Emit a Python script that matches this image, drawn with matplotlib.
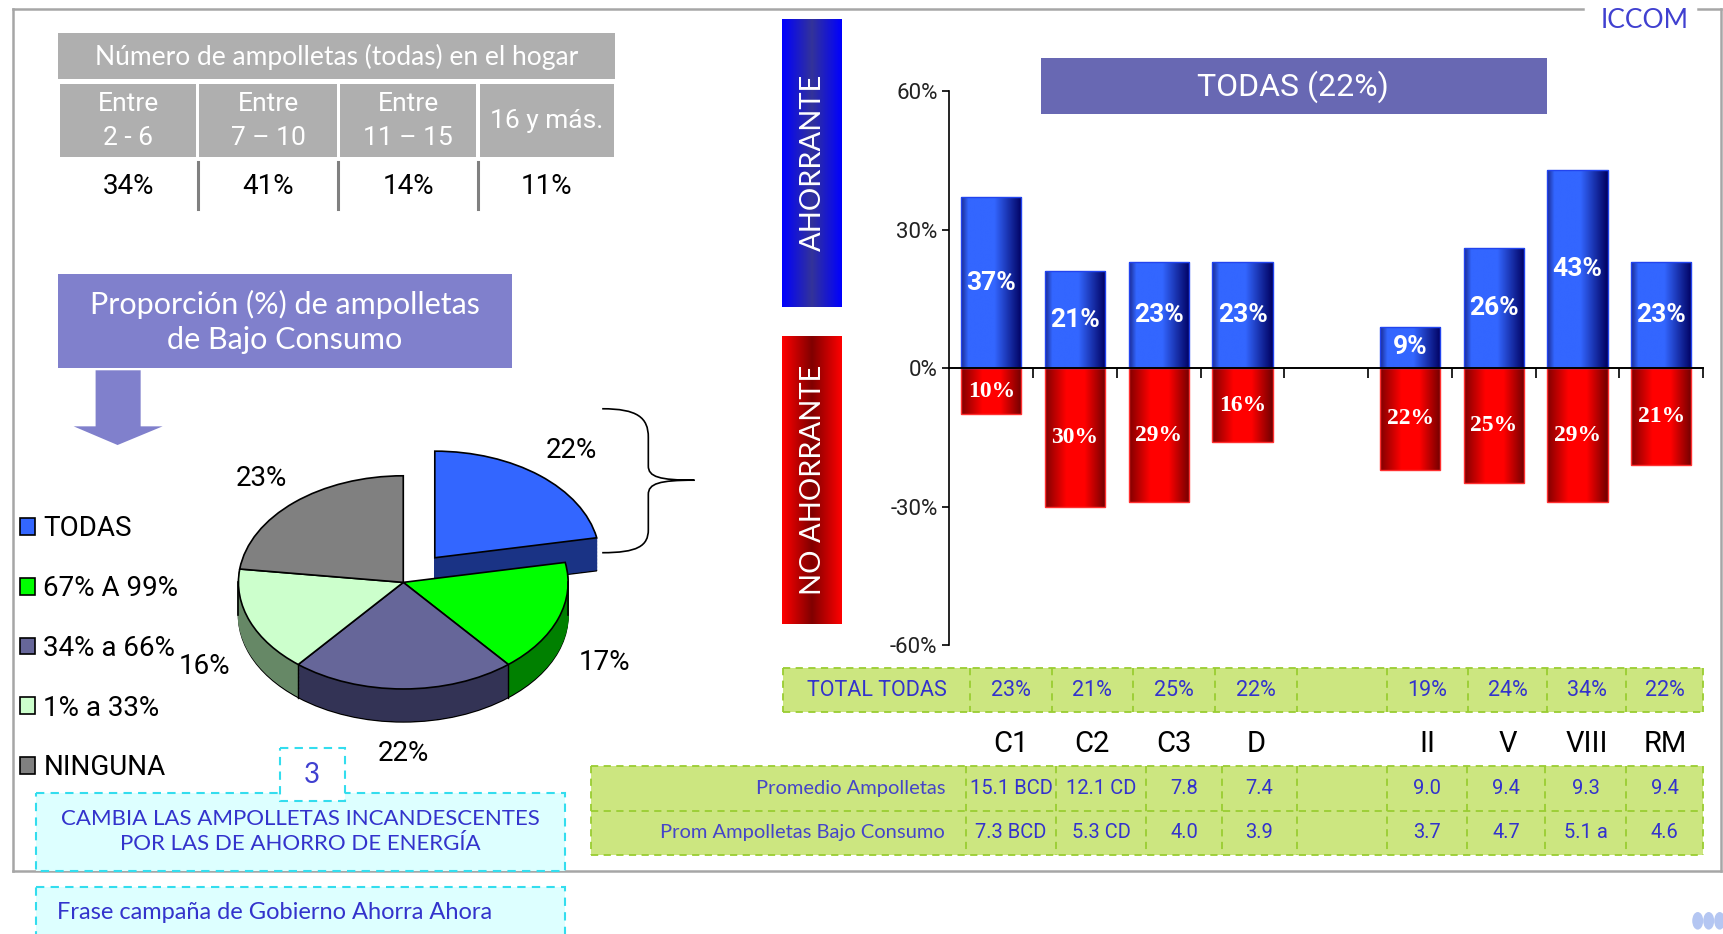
"""
ICCOM slide: ampolletas de bajo consumo, ahorrante vs no ahorrante.
Rebuilds the slide (tables, 3D pie, diverging bars) and saves out.png.
"""
import numpy as np
import matplotlib
matplotlib.use("Agg")
import matplotlib.pyplot as plt
from matplotlib import font_manager
from matplotlib.colors import LinearSegmentedColormap
from matplotlib.patches import Rectangle, Polygon, PathPatch, Ellipse
from matplotlib.path import Path

# ---- data -------------------------------------------------------------
hogar_title = "Número de ampolletas (todas) en el hogar"
hogar_labels = ["Entre\n2 - 6", "Entre\n7 – 10", "Entre\n11 – 15", "16 y más."]
hogar_values = ["34%", "41%", "14%", "11%"]

pie_labels = ["TODAS", "67% A 99%", "34% a 66%", "1% a 33%", "NINGUNA"]
pie_values = [22, 17, 22, 16, 23]

categories = ["C1", "C2", "C3", "D", "", "II", "V", "VIII", "RM"]
ahorrante = [37, 21, 23, 23, None, 9, 26, 43, 23]
no_ahorrante = [10, 30, 29, 16, None, 22, 25, 29, 21]
yticks = [-60, -30, 0, 30, 60]

total_todas = ["23%", "21%", "25%", "22%", "", "19%", "24%", "34%", "22%"]
prom_ampolletas = ["15.1 BCD", "12.1 CD", "7.8", "7.4", "", "9.0", "9.4", "9.3", "9.4"]
prom_bajo_consumo = ["7.3 BCD", "5.3 CD", "4.0", "3.9", "", "3.7", "4.7", "5.1 a", "4.6"]

# ---- fonts --------------------------------------------------------------
installed = {f.name for f in font_manager.fontManager.ttflist}


def pick(*names):
    for n in names:
        if n in installed:
            return n
    return "DejaVu Sans"


MAIN = pick("Lato", "Noto Sans")
NARROW = pick("Liberation Sans Narrow", "Roboto", "Lato")
SERIF = pick("Liberation Serif", "DejaVu Serif")

# ---- colours ------------------------------------------------------------
GREY = "#AFAFAF"
PURPLE = "#8080CC"
TITLE_PURPLE = "#6868B3"
TXT_BLUE = "#3333CC"
GREEN = "#CCE680"
GREEN_EDGE = "#9ACD32"
CYAN_FILL = "#DDFFFF"
CYAN_EDGE = "#33DDEE"
FRAME = "#A6A6A6"
PIE_TOP = ["#3366FF", "#00FF00", "#666699", "#CCFFCC", "#808080"]
PIE_SIDE = ["#1A3385", "#008000", "#333355", "#668866", "#404040"]

# layout is measured on a 1568 x 850 grid, stretched over the full figure
W, H = 1568, 850


def fig_rect(x0, y0, x1, y1):
    return [x0 / W, 1 - y1 / H, (x1 - x0) / W, (y1 - y0) / H]


fig = plt.figure(figsize=(17.23, 9.34), dpi=100)
bg = fig.add_axes([0, 0, 1, 1])
bg.axis("off")

# outer frame
fr = dict(color=FRAME, lw=1.8, zorder=0)
bg.plot([12, 1441], [8, 8], **fr)
bg.plot([1545, 1566], [8, 8], **fr)
bg.plot([12, 12], [8, 793], **fr)
bg.plot([1566, 1566], [8, 793], **fr)
bg.plot([12, 1566], [793, 793], **fr)
bg.text(1497, 19, "ICCOM", color="#4040D0", fontsize=19, family=MAIN,
        ha="center", va="center")

# ---- top-left table -----------------------------------------------------
col_edges = [53, 180, 308, 435, 560]
bg.add_patch(Rectangle((53, 30), 507, 42, fc=GREY, ec="none"))
bg.text(306, 52, hogar_title, color="white", fontsize=19, family=MAIN,
        ha="center", va="center")
for i, (lab, val) in enumerate(zip(hogar_labels, hogar_values)):
    x0, x1 = col_edges[i], col_edges[i + 1]
    bg.add_patch(Rectangle((x0 + 1.5, 76), x1 - x0 - 3, 67, fc=GREY, ec="none"))
    bg.text((x0 + x1) / 2, 110, lab, color="white", fontsize=19, family=NARROW,
            ha="center", va="center", linespacing=1.5)
    bg.text((x0 + x1) / 2, 170, val, color="black", fontsize=20, family=NARROW,
            ha="center", va="center")
for x in col_edges[1:-1]:
    bg.plot([x, x], [147, 190], color="#808080", lw=2.2)

# ---- purple box + arrow -------------------------------------------------
bg.add_patch(Rectangle((53, 249), 413, 86, fc=PURPLE, ec="none"))
bg.text(259, 293, "Proporción (%) de ampolletas\nde Bajo Consumo", color="white",
        fontsize=22, family=MAIN, ha="center", va="center", linespacing=1.3)
bg.add_patch(Polygon([(87, 337), (128, 337), (128, 388), (148, 388),
                      (107, 405), (67, 388), (87, 388)], fc=PURPLE, ec="none"))

# ---- 3D pie -------------------------------------------------------------
pie_ax = fig.add_axes(fig_rect(67, 336, 667, 724))
pie_ax.set_facecolor("none")
depth = 0.31
n_layers = 24
explode = [0.3, 0, 0, 0, 0]
for k in range(n_layers, 0, -1):
    off = -depth * k / n_layers
    layer, _ = pie_ax.pie(pie_values, colors=PIE_SIDE, startangle=90,
                          counterclock=False, explode=explode, center=(0, off),
                          wedgeprops=dict(lw=1))
    for w in layer:
        w.set_edgecolor("black" if k == n_layers else w.get_facecolor())
wedges, _, pct_texts = pie_ax.pie(
    pie_values, colors=PIE_TOP, startangle=90, counterclock=False,
    explode=explode, autopct=lambda p: f"{p:.0f}%", pctdistance=1.3,
    wedgeprops=dict(ec="black", lw=1.2),
    textprops=dict(fontsize=20, family=NARROW, color="black"))
for t in pct_texts:
    x, y = t.get_position()
    if y < 0:
        t.set_position((x, y - depth))
# side edges at front-facing slice boundaries and silhouette
bounds = 90 - np.cumsum([0] + pie_values) * 3.6
for i, th in enumerate(np.deg2rad(bounds)):
    if np.sin(th) < -0.05 and 0 < i < len(pie_values):
        if explode[i - 1] == 0 and explode[i % len(pie_values)] == 0:
            pie_ax.plot([np.cos(th)] * 2, [np.sin(th), np.sin(th) - depth],
                        color="black", lw=1)
for sx in (-1, 1):
    pie_ax.plot([sx, sx], [0, -depth], color="black", lw=1.2)
pie_ax.set_aspect("auto")
pie_ax.set_xlim(-2, 2)
pie_ax.set_ylim(-2, 2)
pie_ax.axis("off")

bg.legend(wedges, pie_labels, loc="upper left", bbox_to_anchor=(18, 469),
          bbox_transform=bg.transData, frameon=False, borderpad=0,
          borderaxespad=0, handlelength=0.55, handleheight=0.55,
          handletextpad=0.3, labelspacing=1.18,
          prop=dict(family=NARROW, size=20))

# curly brace next to the exploded slice
brace = Path(
    [(548, 372), (580, 372), (590, 380), (590, 398),
     (590, 424), (590, 434), (600, 437), (632, 437),
     (600, 437), (590, 440), (590, 450),
     (590, 482), (590, 497), (580, 503), (548, 503)],
    [Path.MOVETO, Path.CURVE4, Path.CURVE4, Path.CURVE4,
     Path.LINETO, Path.CURVE4, Path.CURVE4, Path.CURVE4,
     Path.CURVE4, Path.CURVE4, Path.CURVE4,
     Path.LINETO, Path.CURVE4, Path.CURVE4, Path.CURVE4])
bg.add_patch(PathPatch(brace, fill=False, ec="black", lw=1.2))

# ---- bottom-left message boxes -----------------------------------------
dash = (0, (4, 3))
bg.add_patch(Rectangle((33, 722), 481, 71, fc=CYAN_FILL, ec=CYAN_EDGE,
                       lw=1.5, ls=dash, zorder=2))
bg.text(273, 757, "CAMBIA LAS AMPOLLETAS INCANDESCENTES\nPOR LAS DE AHORRO DE ENERGÍA",
        color=TXT_BLUE, fontsize=16, family=MAIN, ha="center", va="center",
        linespacing=1.3, zorder=3)
bg.add_patch(Rectangle((255, 681), 59, 48, fc="white", ec=CYAN_EDGE,
                       lw=1.5, ls=dash, zorder=4))
bg.text(284, 705, "3", color="#4040D0", fontsize=20, family=MAIN,
        ha="center", va="center", zorder=5)
bg.add_patch(Rectangle((33, 807), 481, 60, fc=CYAN_FILL, ec=CYAN_EDGE,
                       lw=1.5, ls=dash, zorder=2))
bg.text(52, 830, "Frase campaña de Gobierno Ahorra Ahora", color=TXT_BLUE,
        fontsize=17, family=MAIN, ha="left", va="center", zorder=3)
for cx in (1545, 1555, 1565):
    bg.add_patch(Ellipse((cx, 838), 10, 16, fc="#B4C6F2", ec="none"))

# ---- AHORRANTE / NO AHORRANTE labels -----------------------------------
grad = np.linspace(0, 1, 256)[None, :]
cmap_ah = LinearSegmentedColormap.from_list("ah", ["#0000FF", "#333399", "#0000FF"])
cmap_no = LinearSegmentedColormap.from_list("no", ["#FF0000", "#800000", "#FF0000"])
bg.imshow(grad, extent=(712, 766, 279, 17), cmap=cmap_ah, aspect="auto")
bg.imshow(grad, extent=(712, 766, 568, 306), cmap=cmap_no, aspect="auto")
bg.text(740, 148, "AHORRANTE", rotation=90, color="white", fontsize=21,
        family=MAIN, ha="center", va="center")
bg.text(740, 437, "NO AHORRANTE", rotation=90, color="white", fontsize=21,
        family=MAIN, ha="center", va="center")

bg.add_patch(Rectangle((947, 53), 461, 51, fc=TITLE_PURPLE, ec="none"))
bg.text(1177, 79, "TODAS (22%)", color="white", fontsize=23, family=NARROW,
        ha="center", va="center")

# ---- diverging bar chart -----------------------------------------------
bar_ax = fig.add_axes(fig_rect(864, 83, 1550, 587))
bar_ax.set_facecolor("none")
keep = [i for i, v in enumerate(ahorrante) if v is not None]
xk = np.array(keep)
up = bar_ax.bar(xk, [ahorrante[i] for i in keep], width=0.72,
                fc="none", ec="#2244EE", lw=1, zorder=3)
down = bar_ax.bar(xk, [-no_ahorrante[i] for i in keep], width=0.72,
                  fc="none", ec="#FF3030", lw=1, zorder=3)
cmap_blue = LinearSegmentedColormap.from_list(
    "bb", [(0, "#1A2A90"), (0.12, "#3366FF"), (0.55, "#3366FF"), (1, "#000060")])
cmap_red = LinearSegmentedColormap.from_list(
    "rb", [(0, "#800000"), (0.35, "#FF0000"), (0.65, "#FF0000"), (1, "#700000")])
for bars, cm in ((up, cmap_blue), (down, cmap_red)):
    for p in bars.patches:
        x0, y0, w, h = p.get_x(), p.get_y(), p.get_width(), p.get_height()
        im = bar_ax.imshow(grad, extent=(x0, x0 + w, y0, y0 + h), cmap=cm,
                           aspect="auto", zorder=2)
        im.set_clip_path(p)
bar_ax.bar_label(up, labels=[f"{ahorrante[i]}%" for i in keep], label_type="center",
                 color="white", fontsize=19, fontweight="bold", family=NARROW,
                 zorder=6)
bar_ax.bar_label(down, labels=[f"{no_ahorrante[i]}%" for i in keep],
                 label_type="center", color="white", fontsize=17,
                 fontweight="bold", family=SERIF, zorder=6)
bar_ax.set_xlim(-0.5, len(categories) - 0.5)
bar_ax.set_ylim(-60, 60)
bar_ax.spines[["top", "right"]].set_visible(False)
bar_ax.spines["bottom"].set_position(("data", 0))
bar_ax.spines["bottom"].set_zorder(5)
bar_ax.spines["bottom"].set_linewidth(1.4)
bar_ax.spines["left"].set_linewidth(1.2)
bar_ax.set_xticks(np.arange(0.5, len(categories), 1))
bar_ax.set_xticklabels([])
bar_ax.tick_params(axis="x", direction="out", length=7, width=1.2)
bar_ax.set_yticks(yticks)
bar_ax.set_yticklabels([f"{t}%" for t in yticks])
bar_ax.tick_params(axis="y", direction="out", length=5, width=1.2,
                   labelsize=16, labelcolor="#222222")
for t in bar_ax.get_yticklabels():
    t.set_family(NARROW)

# ---- right-hand tables --------------------------------------------------
T1_EDGES = [713, 883, 957, 1031, 1106, 1180, 1262, 1336, 1408, 1480, 1550]
T1_Y = [608, 648]
T2_EDGES = [538, 879, 961, 1043, 1112, 1180, 1262, 1335, 1406, 1480, 1550]
T2_Y = [697, 738, 778]


def dashed_table(edges, ys):
    bg.add_patch(Rectangle((edges[0], ys[0]), edges[-1] - edges[0],
                           ys[-1] - ys[0], fc=GREEN, ec="none", zorder=1))
    for x in edges:
        bg.plot([x, x], [ys[0], ys[-1]], color=GREEN_EDGE, lw=1.3, ls=dash, zorder=2)
    for y in ys:
        bg.plot([edges[0], edges[-1]], [y, y], color=GREEN_EDGE, lw=1.3, ls=dash,
                zorder=2)


dashed_table(T1_EDGES, T1_Y)
t1_mid = (T1_Y[0] + T1_Y[1]) / 2
bg.text((T1_EDGES[0] + T1_EDGES[1]) / 2, t1_mid, "TOTAL TODAS", color=TXT_BLUE,
        fontsize=15.5, family=NARROW, ha="center", va="center", zorder=3)
for i, val in enumerate(total_todas):
    cx = (T1_EDGES[i + 1] + T1_EDGES[i + 2]) / 2
    bg.text(cx, t1_mid, val, color=TXT_BLUE, fontsize=15.5, family=NARROW,
            ha="center", va="center", zorder=3)
    bg.text(cx, 677, categories[i], color="black", fontsize=21, family=NARROW,
            ha="center", va="center")

dashed_table(T2_EDGES, T2_Y)
for r, (name, row) in enumerate([("Promedio Ampolletas", prom_ampolletas),
                                 ("Prom Ampolletas Bajo Consumo", prom_bajo_consumo)]):
    cy = (T2_Y[r] + T2_Y[r + 1]) / 2
    bg.text(860, cy, name, color="#4545C8", fontsize=14.5, family=MAIN,
            ha="right", va="center", zorder=3)
    for i, val in enumerate(row):
        cx = (T2_EDGES[i + 1] + T2_EDGES[i + 2]) / 2
        bg.text(cx, cy, val, color=TXT_BLUE, fontsize=14.5, family=NARROW,
                ha="center", va="center", zorder=3)

bg.set_xlim(0, W)
bg.set_ylim(H, 0)

fig.savefig("out.png", dpi=100, facecolor="white")
plt.close(fig)
